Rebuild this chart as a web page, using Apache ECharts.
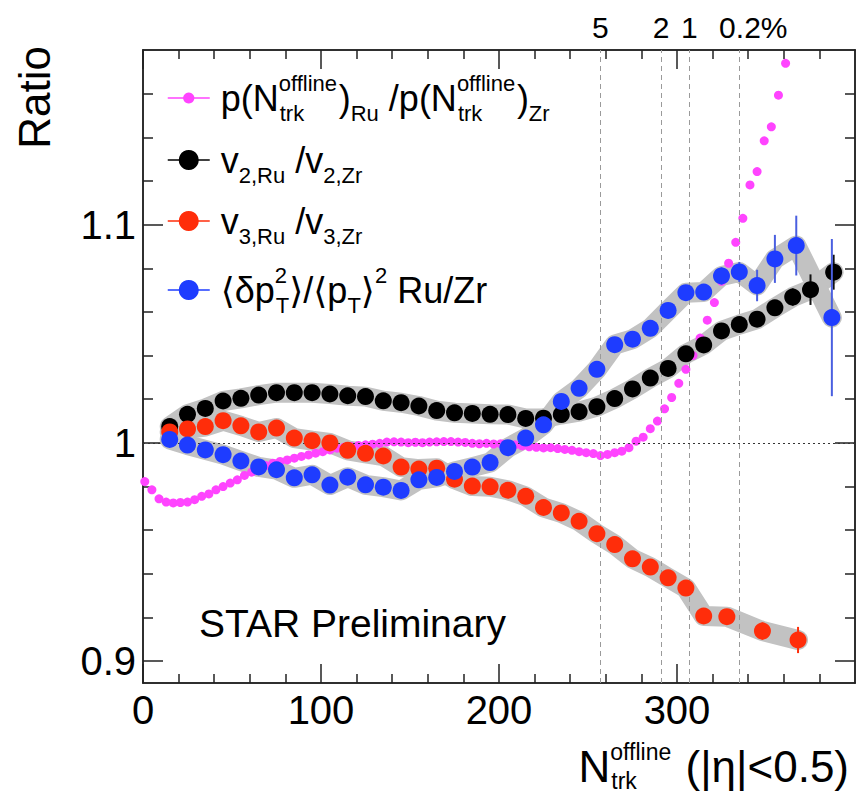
<!DOCTYPE html>
<html><head><meta charset="utf-8">
<script src="https://cdn.jsdelivr.net/npm/echarts@6/dist/echarts.min.js"></script>
<style>html,body{margin:0;padding:0;background:#fff}#c{width:856px;height:793px}</style>
</head><body><div id="c"></div>
<script>
const FONT = '"Liberation Sans", "DejaVu Sans", Arial, sans-serif';

// ---- tick values / labels ----
const xMajorTicks = [0, 100, 200, 300];
const xMinorTicks = [20, 40, 60, 80, 120, 140, 160, 180, 220, 240, 260, 280, 320, 340, 360, 380];
const yMajorTicks = [0.9, 1.0, 1.1];
const yMinorTicks = [0.92, 0.94, 0.96, 0.98, 1.02, 1.04, 1.06, 1.08, 1.12, 1.14, 1.16];
const centralityX = [257, 291, 307, 335];
const centralityLabels = ['5', '2', '1', '0.2%'];

// ---- series names ----
const NAME_MULT = 'p(N_trk^offline)_Ru / p(N_trk^offline)_Zr';
const NAME_V2 = 'v_2,Ru / v_2,Zr';
const NAME_V3 = 'v_3,Ru / v_3,Zr';
const NAME_PT = '<δpT^2>/<pT>^2 Ru/Zr';

// ---- data ----
const multX = [1,5,9,13,17,21,25,29,33,37,41,45,49,53,57,61,65,69,73,77,81,85,89,93,97,101,105,109,113,117,121,125,129,133,137,141,145,149,153,157,161,165,169,173,177,181,185,189,193,197,201,205,209,213,217,221,225,229,233,237,241,245,249,253,257,261,265,269,273,277,281,285,289,293,297,301,305,309,313,317,321,325,329,333,337,341,345,349,353,357,361];
const multY = [0.9823,0.9785,0.9744,0.9729,0.9725,0.9727,0.9729,0.9740,0.9755,0.9766,
  0.9785,0.9800,0.9816,0.9831,0.9851,0.9866,0.9884,0.9896,0.9907,0.9915,
  0.9922,0.9930,0.9938,0.9945,0.9953,0.9960,0.9968,0.9976,0.9980,0.9983,
  0.9988,0.9991,0.9994,0.9998,1.0004,1.0005,1.0004,1.0001,1.0003,1.0001,
  1.0004,1.0005,1.0006,1.0006,1.0004,1.0002,0.9998,0.9996,0.9998,0.9995,
  0.9996,0.9994,0.9991,0.9986,0.9982,0.9980,0.9977,0.9978,0.9974,0.9970,
  0.9966,0.9960,0.9955,0.9951,0.9942,0.9947,0.9955,0.9962,0.9978,1.0008,
  1.0026,1.0065,1.0100,1.0156,1.0208,1.0273,1.0337,1.0400,1.0480,1.0562,
  1.0643,1.0740,1.0823,1.0919,1.1029,1.1182,1.1243,1.1384,1.1448,1.1593,
  1.1739];

const v2X = [15,25,35,45,55,65,75,85,95,105,115,125,135,145,155,165,175,185,195,205,215,225,235,245,255,265,275,285,295,305,315,325,335,345,355,365,375,388];
const v2Y = [1.0075,1.0131,1.0158,1.0192,1.0204,1.0219,1.0230,1.0230,1.0230,1.0224,
  1.0216,1.0212,1.0193,1.0184,1.0169,1.0148,1.0138,1.0135,1.0131,1.0130,
  1.0112,1.0113,1.0130,1.0143,1.0166,1.0203,1.0247,1.0297,1.0341,1.0408,
  1.0449,1.0513,1.0542,1.0567,1.0619,1.0668,1.0702,1.0782];
const v2Err = [0.001,0.001,0.001,0.001,0.001,0.001,0.001,0.001,0.001,0.001,
  0.001,0.001,0.001,0.001,0.001,0.001,0.001,0.001,0.001,0.001,
  0.001,0.001,0.001,0.001,0.001,0.001,0.001,0.001,0.001,0.001,
  0.001,0.001,0.001,0.001,0.003,0.004,0.007,0.008];

const v3X = [15,25,35,45,55,65,75,85,95,105,115,125,135,145,155,165,175,185,195,205,215,225,235,245,255,265,275,285,295,305,315,328,348,368];
const v3Y = [1.0050,1.0064,1.0075,1.0102,1.0078,1.0050,1.0068,1.0022,1.0010,1.0000,
  0.9966,0.9952,0.9940,0.9889,0.9880,0.9884,0.9834,0.9802,0.9799,0.9783,
  0.9755,0.9704,0.9679,0.9641,0.9584,0.9534,0.9469,0.9431,0.9382,0.9335,
  0.9207,0.9204,0.9138,0.9097];
const v3Err = [0.001,0.001,0.001,0.001,0.001,0.001,0.001,0.001,0.001,0.001,
  0.001,0.001,0.001,0.001,0.001,0.001,0.001,0.001,0.001,0.001,
  0.001,0.001,0.001,0.001,0.001,0.001,0.001,0.001,0.001,0.001,
  0.003,0.003,0.004,0.006];

const ptX = [15,25,35,45,55,65,75,85,95,105,115,125,135,145,155,165,175,185,195,205,215,225,235,245,255,265,275,285,295,305,315,325,335,345,355,367,387];
const ptY = [1.0016,0.9990,0.9968,0.9946,0.9917,0.9890,0.9877,0.9840,0.9854,0.9807,
  0.9843,0.9808,0.9797,0.9782,0.9831,0.9842,0.9869,0.9889,0.9910,0.9978,
  1.0022,1.0083,1.0190,1.0250,1.0337,1.0450,1.0475,1.0525,1.0607,1.0688,
  1.0691,1.0765,1.0783,1.0721,1.0843,1.0904,1.0574];
const ptErr = [0.001,0.001,0.001,0.001,0.001,0.001,0.001,0.001,0.001,0.001,
  0.001,0.001,0.001,0.001,0.001,0.001,0.001,0.001,0.001,0.001,
  0.001,0.001,0.001,0.001,0.001,0.001,0.001,0.001,0.001,0.003,
  0.003,0.004,0.0046,0.0072,0.011,0.0137,0.036];

// ---- styles ----
const C_MULT = '#ff44ff', C_V2 = '#000000', C_V3 = '#ff2d0a', C_PT = '#1e3cff';
const BAND = '#c2c2c2', FRAME = '#222';

const LEG_RICH = {
  pad: {width: 6, fontSize: 36, lineHeight: 52, fontFamily: FONT},
  m: {fontSize: 36, lineHeight: 52, fontFamily: FONT, color: '#000'},
  sub: {fontSize: 22, lineHeight: 22, verticalAlign: 'bottom', fontFamily: FONT, color: '#000'},
  sup: {fontSize: 22, lineHeight: 22, verticalAlign: 'top', fontFamily: FONT, color: '#000'},
  supz: {fontSize: 22, lineHeight: 22, verticalAlign: 'top', width: 1, align: 'left', fontFamily: FONT, color: '#000'},
  subw: {fontSize: 22, lineHeight: 22, verticalAlign: 'bottom', width: 59, align: 'left', fontFamily: FONT, color: '#000'}
};
const LEG_TEXT = {};
LEG_TEXT[NAME_MULT] = '{pad| }{m|p(N}{supz|offline}{subw|trk}{m|)}{sub|Ru}{m| /p(N}{supz|offline}{subw|trk}{m|)}{sub|Zr}';
LEG_TEXT[NAME_V2] = '{pad| }{m|v}{sub|2,Ru}{m| /v}{sub|2,Zr}';
LEG_TEXT[NAME_V3] = '{pad| }{m|v}{sub|3,Ru}{m| /v}{sub|3,Zr}';
LEG_TEXT[NAME_PT] = '{pad| }{m|⟨δp}{supz|2}{sub|T}{m|⟩/⟨p}{sub|T}{m|⟩}{sup|2}{m| Ru/Zr}';

const XNAME_RICH = {
  m: {fontSize: 44, lineHeight: 52, align: 'left', fontFamily: FONT, color: '#000'},
  supz: {fontSize: 23, lineHeight: 23, verticalAlign: 'top', width: 1, align: 'left', fontFamily: FONT, color: '#000'},
  subw: {fontSize: 23, lineHeight: 23, verticalAlign: 'bottom', width: 62, align: 'left', fontFamily: FONT, color: '#000'}
};

function xAx(pos, ticks, len, labels, extra) {
  return Object.assign({
    type: 'value', min: 0, max: 400, position: pos, gridIndex: 0,
    axisLine: {show: true, onZero: false, lineStyle: {color: FRAME, width: 1.5}},
    axisTick: {show: true, inside: true, length: len, customValues: ticks, lineStyle: {color: FRAME, width: 1.5}},
    axisLabel: {show: labels, customValues: ticks, margin: 7, fontSize: 40, color: '#000', fontFamily: FONT},
    splitLine: {show: false}, minorTick: {show: false}
  }, extra || {});
}
function yAx(pos, ticks, len, labels, extra) {
  return Object.assign({
    type: 'value', min: 0.89, max: 1.18, position: pos, gridIndex: 0,
    axisLine: {show: true, onZero: false, lineStyle: {color: FRAME, width: 1.5}},
    axisTick: {show: true, inside: true, length: len, customValues: ticks, lineStyle: {color: FRAME, width: 1.5}},
    axisLabel: {show: labels, customValues: ticks, margin: 7, fontSize: 40, color: '#000', fontFamily: FONT,
      formatter: v => (Math.abs(v - 1) < 1e-9 ? '1' : String(Math.round(v * 10) / 10))},
    splitLine: {show: false}, minorTick: {show: false}
  }, extra || {});
}

function pairs(xs, ys) { return xs.map((x, i) => [x, ys[i]]); }

function bandSeries(name, xs, ys, z, extra) {
  return Object.assign({
    type: 'line', name, xAxisIndex: 0, yAxisIndex: 0, z, data: pairs(xs, ys),
    symbol: 'none', showSymbol: false, silent: true, emphasis: {disabled: true},
    lineStyle: {color: BAND, width: 20, cap: 'round', join: 'round'}
  }, extra || {});
}
function markerSeries(name, xs, ys, color, size, z) {
  return {
    type: 'line', name, xAxisIndex: 0, yAxisIndex: 0, z, data: pairs(xs, ys),
    symbol: 'circle', symbolSize: size, showSymbol: true, silent: true,
    emphasis: {disabled: true},
    itemStyle: {color, borderWidth: 0, opacity: 1},
    lineStyle: {color, width: 0, opacity: 0}
  };
}
function errSeries(name, xs, ys, es, color, z) {
  return {
    type: 'custom', name, xAxisIndex: 0, yAxisIndex: 0, z, silent: true,
    data: xs.map((x, i) => [x, ys[i], es[i]]),
    renderItem(params, api) {
      const x = api.value(0), y = api.value(1), e = api.value(2);
      const a = api.coord([x, y - e]), b = api.coord([x, y + e]);
      return {type: 'line', shape: {x1: a[0], y1: a[1], x2: b[0], y2: b[1]}, style: {stroke: color, lineWidth: 2}};
    }
  };
}

const refLines = centralityX.map((x, i) => ({
  xAxis: x,
  lineStyle: {color: '#9a9a9a', type: [5, 4], width: 1},
  label: {show: true, position: 'end', formatter: centralityLabels[i], fontSize: 30, color: '#000',
    fontFamily: FONT, distance: 8, padding: i === 3 ? [0, 0, 0, 28] : 0}
}));
refLines.push({yAxis: 1, lineStyle: {color: '#333', type: [2, 3], width: 1}, label: {show: false}});

const legendCommon = {
  orient: 'vertical', left: 162, itemWidth: 42, itemGap: 17, selectedMode: false,
  formatter: n => LEG_TEXT[n],
  textStyle: {color: '#000', fontFamily: FONT, fontSize: 36, rich: LEG_RICH},
  lineStyle: {width: 1.5, opacity: 1}
};

const option = {
  animation: false,
  backgroundColor: '#fff',
  grid: {left: 143, right: 1, top: 50, bottom: 110, containLabel: false, outerBoundsMode: 'none'},
  xAxis: [
    xAx('bottom', xMajorTicks, 19, true, {
      name: '{m|N}{supz|offline}{subw|trk}{m| (|η|<0.5)}',
      nameLocation: 'end', nameGap: -6,
      nameTextStyle: {align: 'right', verticalAlign: 'top', padding: [57, 0, 0, 0], rich: XNAME_RICH, fontFamily: FONT, fontSize: 44, color: '#000'}
    }),
    xAx('bottom', xMinorTicks, 9, false),
    xAx('top', xMajorTicks, 19, false),
    xAx('top', xMinorTicks, 9, false)
  ],
  yAxis: [
    yAx('left', yMajorTicks, 20, true, {
      name: 'Ratio', nameLocation: 'end', nameGap: 4, nameRotate: 90,
      nameTextStyle: {align: 'right', verticalAlign: 'bottom', padding: [0, 0, 87, 0], fontSize: 44, fontFamily: FONT, color: '#000'}
    }),
    yAx('left', yMinorTicks, 10, false),
    yAx('right', yMajorTicks, 20, false),
    yAx('right', yMinorTicks, 10, false)
  ],
  legend: [
    Object.assign({}, legendCommon, {data: [NAME_MULT], top: 67, itemHeight: 14}),
    Object.assign({}, legendCommon, {data: [NAME_V2, NAME_V3, NAME_PT], top: 137, itemHeight: 25})
  ],
  graphic: [{
    type: 'text', left: 199, top: 604, silent: true,
    style: {text: 'STAR Preliminary', fontSize: 39, fontFamily: FONT, fill: '#000'}
  }],
  series: [
    bandSeries('sys v2', v2X, v2Y, 1, {markLine: {silent: true, symbol: ['none', 'none'], animation: false, data: refLines}}),
    bandSeries('sys v3', v3X, v3Y, 1),
    bandSeries('sys pt', ptX, ptY, 1),
    markerSeries(NAME_MULT, multX, multY, C_MULT, 9, 3),
    errSeries('err v2', v2X, v2Y, v2Err, '#111', 4),
    markerSeries(NAME_V2, v2X, v2Y, C_V2, 17, 5),
    errSeries('err v3', v3X, v3Y, v3Err, C_V3, 6),
    markerSeries(NAME_V3, v3X, v3Y, C_V3, 17, 7),
    errSeries('err pt', ptX, ptY, ptErr, '#4a5fe0', 8),
    markerSeries(NAME_PT, ptX, ptY, C_PT, 17, 9)
  ]
};

const chart = echarts.init(document.getElementById('c'), null, {renderer: 'svg', width: 856, height: 793});
chart.setOption(option);
</script>
</body></html>
